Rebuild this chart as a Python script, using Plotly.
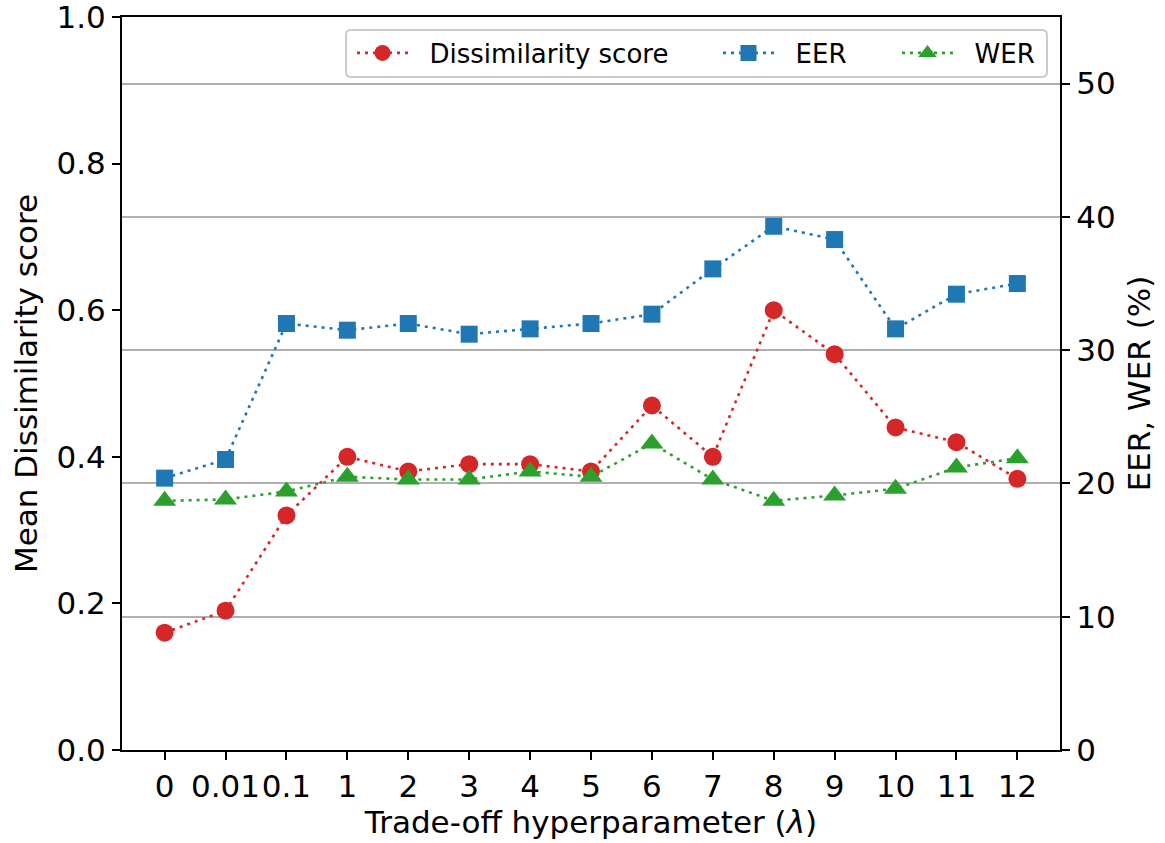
import plotly.graph_objects as go

# ---------------- data ----------------
lambdas = ["0", "0.01", "0.1", "1", "2", "3", "4", "5", "6", "7", "8", "9", "10", "11", "12"]
dissimilarity = [0.16, 0.19, 0.32, 0.40, 0.38, 0.39, 0.39, 0.38, 0.47, 0.40, 0.60, 0.54, 0.44, 0.42, 0.37]
eer = [20.4, 21.8, 32.0, 31.5, 32.0, 31.2, 31.6, 32.0, 32.7, 36.1, 39.3, 38.3, 31.6, 34.2, 35.0]
wer = [18.7, 18.8, 19.4, 20.5, 20.3, 20.3, 20.9, 20.5, 23.0, 20.3, 18.7, 19.1, 19.6, 21.2, 21.9]
left_ticks = [0.0, 0.2, 0.4, 0.6, 0.8, 1.0]
right_ticks = [0, 10, 20, 30, 40, 50]
series_names = ["Dissimilarity score", "EER", "WER"]

# ---------------- style ----------------
W, H = 1165, 843
ML, MR, MT, MB = 122, 105, 17, 93
PW, PH = W - ML - MR, H - MT - MB
FONT = "DejaVu Sans"
RED, BLUE, GREEN = "#d62728", "#1f77b4", "#2ca02c"
DASH = "3px,5px"
LW = 2.6
PAD = "\u00a0\u00a0"  # gap between legend handle and label


def px(xp):
    return (xp - ML) / PW


def py(yp):
    return (H - MB - yp) / PH


fig = go.Figure()
fig.add_trace(go.Scatter(
    x=lambdas, y=dissimilarity, name=PAD + series_names[0], mode="lines+markers",
    line=dict(color=RED, width=LW, dash=DASH),
    marker=dict(symbol="circle", size=18, color=RED),
    yaxis="y", legend="legend"))
fig.add_trace(go.Scatter(
    x=lambdas, y=eer, name=PAD + series_names[1], mode="lines+markers",
    line=dict(color=BLUE, width=LW, dash=DASH),
    marker=dict(symbol="square", size=17, color=BLUE),
    yaxis="y2", legend="legend2"))
fig.add_trace(go.Scatter(
    x=lambdas, y=wer, name=PAD + series_names[2], mode="lines+markers",
    line=dict(color=GREEN, width=LW, dash=DASH),
    marker=dict(symbol="triangle-up", size=20, color=GREEN),
    yaxis="y2", legend="legend3"))

axis_common = dict(
    showline=True, linecolor="black", linewidth=2,
    ticks="outside", ticklen=8, tickwidth=2, tickcolor="black",
    tickfont=dict(family=FONT, size=31, color="black"),
    zeroline=False, ticklabeloverflow="allow",
)

fig.update_layout(
    width=W, height=H,
    margin=dict(l=ML, r=MR, t=MT, b=MB, autoexpand=False),
    paper_bgcolor="white", plot_bgcolor="white",
    font=dict(family=FONT, size=31, color="black"),
    xaxis=dict(
        **axis_common, type="category", mirror=True,
        range=[-0.7, len(lambdas) - 1 + 0.7],
        tickmode="array", tickvals=lambdas, ticktext=lambdas, tickangle=0,
        showgrid=False,
        title=dict(text="Trade-off hyperparameter (<i>λ</i>)",
                   font=dict(family=FONT, size=31), standoff=6),
    ),
    yaxis=dict(
        **axis_common, range=[0, 1], tickmode="array", tickvals=left_ticks,
        ticktext=[f"{v:.1f}" for v in left_ticks], showgrid=False,
        title=dict(text="Mean Dissimilarity score",
                   font=dict(family=FONT, size=31), standoff=10),
    ),
    yaxis2=dict(
        **axis_common, overlaying="y", side="right", range=[0, 55],
        tickmode="array", tickvals=right_ticks,
        ticktext=[str(v) for v in right_ticks],
        showgrid=True, gridcolor="#b0b0b0", gridwidth=2,
        title=dict(text="EER, WER (%)", font=dict(family=FONT, size=31), standoff=14),
    ),
    showlegend=True,
)

leg_common = dict(
    orientation="h", xanchor="left", yanchor="middle", y=py(53),
    bgcolor="rgba(0,0,0,0)", borderwidth=0, itemwidth=51,
    font=dict(family=FONT, size=26, color="black"),
)
fig.update_layout(
    legend=dict(**leg_common, x=px(352)),
    legend2=dict(**leg_common, x=px(718)),
    legend3=dict(**leg_common, x=px(897)),
)

# legend frame (rounded rectangle)
x0, x1, y0, y1, r = px(346), px(1047), py(77), py(30), 5
rx, ry = r / PW, r / PH
path = (f"M{x0 + rx},{y0} L{x1 - rx},{y0} Q{x1},{y0} {x1},{y0 + ry} "
        f"L{x1},{y1 - ry} Q{x1},{y1} {x1 - rx},{y1} L{x0 + rx},{y1} "
        f"Q{x0},{y1} {x0},{y1 - ry} L{x0},{y0 + ry} Q{x0},{y0} {x0 + rx},{y0} Z")
fig.add_shape(type="path", path=path, xref="paper", yref="paper",
              line=dict(color="#cccccc", width=2), fillcolor="rgba(255,255,255,0.8)",
              layer="above")

fig.write_html("out.html")
